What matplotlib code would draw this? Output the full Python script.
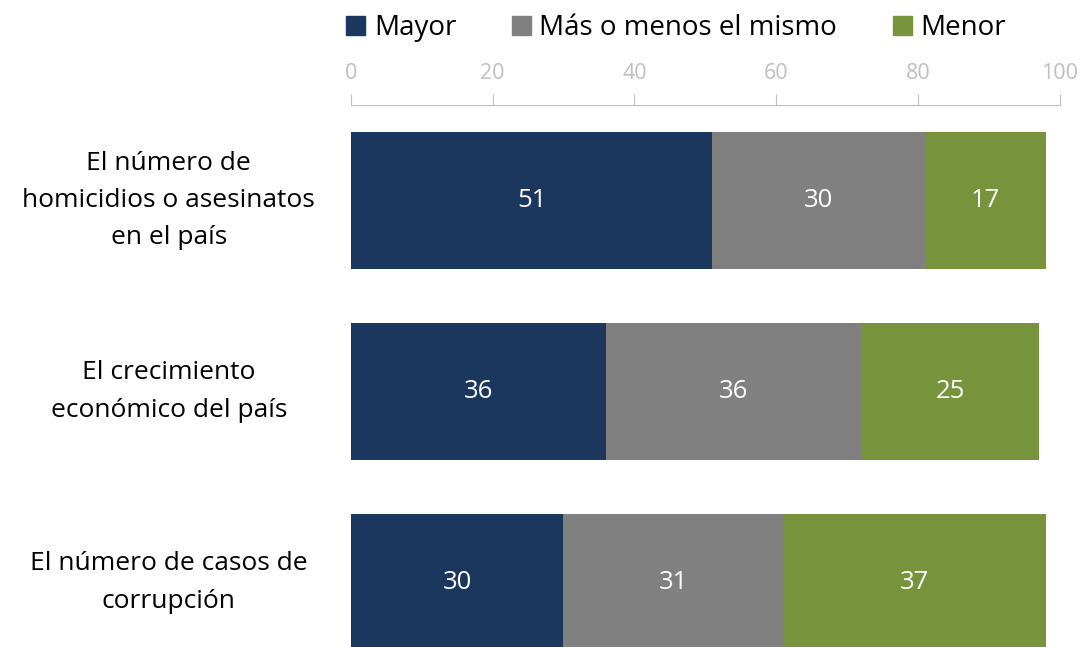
import matplotlib.pyplot as plt
import numpy as np
from matplotlib.patches import Patch

plt.rcParams['font.family'] = ['Open Sans', 'DejaVu Sans']

# data
categories = ["El número de\nhomicidios o asesinatos\nen el país",
              "El crecimiento\neconómico del país",
              "El número de casos de\ncorrupción"]
series = ["Mayor", "Más o menos el mismo", "Menor"]
mayor = [51, 36, 30]
mismo = [30, 36, 31]
menor = [17, 25, 37]
colors = ["#1B375E", "#808080", "#77933C"]

fig = plt.figure(figsize=(10.82, 6.47), dpi=100)
ax = fig.add_axes([350.7 / 1082, 0, (1060 - 350.7) / 1082, 542 / 647])

y = np.arange(len(categories))
left = np.zeros(len(categories))
for name, vals, c in zip(series, [mayor, mismo, menor], colors):
    bars = ax.barh(y, vals, left=left, height=0.72, color=c, label=name)
    for b, v in zip(bars, vals):
        ax.text(b.get_x() + b.get_width() / 2, b.get_y() + b.get_height() / 2, str(v),
                ha="center", va="center", color="white", fontsize=18.5)
    left += np.array(vals)

ax.set_xlim(0, 100)
ax.set_ylim(2.338, -0.5)
ax.set_xticks(np.arange(0, 101, 20))
ax.xaxis.tick_top()
ax.tick_params(axis="x", colors="#BFBFBF", labelcolor="#BFBFBF", labelsize=15.5,
               length=8, direction="out", pad=7)
ax.set_yticks(y)
ax.set_yticklabels(categories, fontsize=19, ha="center", va="center", linespacing=1.65)
ax.tick_params(axis="y", length=0, pad=131)
for s in ["right", "bottom", "left"]:
    ax.spines[s].set_visible(False)
ax.spines["top"].set_color("#BFBFBF")

handles = [Patch(color=c) for c in colors]
fig.legend(handles, series, loc="upper left", bbox_to_anchor=(321 / 1082, 1.017),
           ncol=3, frameon=False, fontsize=20, handlelength=0.7, handleheight=0.7,
           handletextpad=0.3, columnspacing=2.0)

fig.savefig("out.png", dpi=100)
